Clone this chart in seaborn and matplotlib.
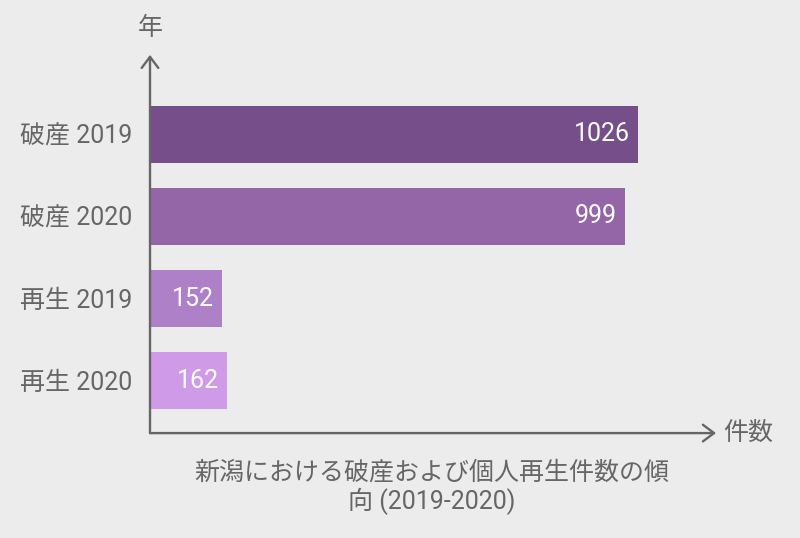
import pandas as pd
import matplotlib.pyplot as plt
import seaborn as sns

# ── Data ───────────────────────────────────────────────
categories = ['破産 2019', '破産 2020', '再生 2019', '再生 2020']
counts = [1026, 999, 152, 162]
bar_colors = ['#764e8a', '#9466a8', '#ae80c8', '#cf9be9']

x_label = '件数'
y_label = '年'
title = '新潟における破産および個人再生件数の傾\n向 (2019-2020)'

df = pd.DataFrame({'category': categories, 'count': counts})

# ── Style ──────────────────────────────────────────────
sns.set_style('white')
plt.rcParams['font.family'] = ['Roboto', 'Noto Sans CJK JP', 'DejaVu Sans']
bg = '#ececec'
grey = '#666666'
fs = 18

fig = plt.figure(figsize=(8, 5.38), dpi=100, facecolor=bg)
ax = fig.add_axes([0.1875, 0.195, 0.7075, 0.703])
ax.set_facecolor(bg)

sns.barplot(data=df, y='category', x='count', hue='category',
            palette=bar_colors, legend=False, width=0.7,
            saturation=1, linewidth=0, ax=ax)

ax.set_xlim(0, 1190)
ax.set_ylim(3.64, -0.97)

# value labels inside bar ends
for i, v in enumerate(counts):
    ax.annotate(str(v), xy=(v, i), xytext=(-6, 0),
                textcoords='offset points', ha='right', va='center',
                color='white', fontsize=fs)

# axes as arrows
for spine in ax.spines.values():
    spine.set_visible(False)
arrow = dict(arrowstyle='->,head_length=0.4,head_width=0.3',
             color=grey, lw=1.7, shrinkA=0, shrinkB=0, mutation_scale=20)
ax.annotate('', xy=(0, 1), xytext=(0, 0), xycoords='axes fraction',
            arrowprops=arrow)
ax.annotate('', xy=(1, 0), xytext=(0, 0), xycoords='axes fraction',
            arrowprops=arrow)

ax.set_xticks([])
ax.tick_params(axis='y', length=0, pad=13, labelsize=fs, labelcolor=grey)
ax.set_ylabel('')
ax.set_xlabel('')

ax.text(0, 1.04, y_label, transform=ax.transAxes, ha='center', va='bottom',
        fontsize=fs, color=grey)
ax.text(1.012, 0, x_label, transform=ax.transAxes, ha='left', va='center',
        fontsize=fs, color=grey)
fig.text(0.54, 1 - 461 / 538, title, ha='center', va='top',
         fontsize=fs, color=grey, linespacing=1.15)

plt.savefig('out.png', dpi=100, facecolor=bg)
